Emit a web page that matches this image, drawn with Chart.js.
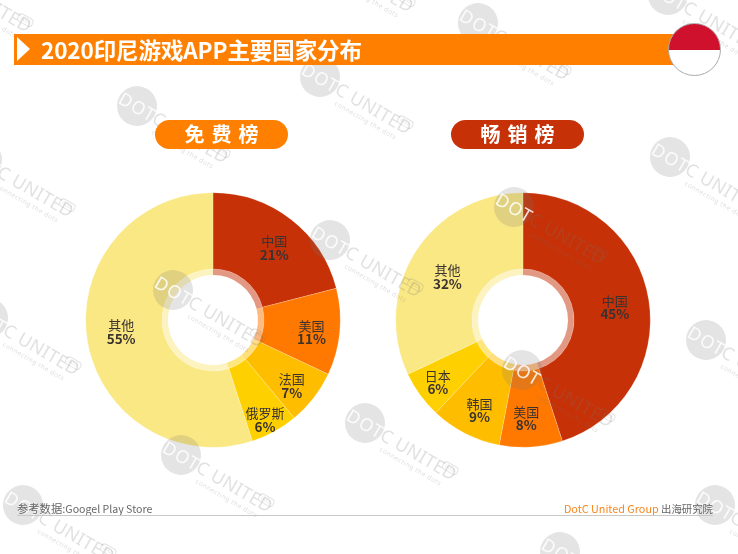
<!DOCTYPE html>
<html lang="zh"><head><meta charset="utf-8">
<script src="https://cdn.jsdelivr.net/npm/chart.js@4"></script>
<style>
html,body{margin:0;padding:0;background:#fff;}
#page{position:relative;width:738px;height:554px;overflow:hidden;font-family:"Noto Sans CJK SC","Noto Sans",sans-serif;}
canvas.pie{position:absolute;top:190px;z-index:1;}
#wmLayer{position:absolute;inset:0;z-index:2;pointer-events:none;}
.wm{position:absolute;width:0;height:0;transform:rotate(30deg);transform-origin:0 0;}
.wm i{position:absolute;left:-20px;top:-20px;width:40px;height:40px;border-radius:50%;background:rgba(120,120,120,.2);}
.wm b{position:absolute;left:-19px;top:-11px;font:400 18px/22px "Noto Sans",sans-serif;letter-spacing:1px;color:rgba(255,255,255,.85);white-space:nowrap;}
.wm u{position:absolute;left:20px;top:-12px;text-decoration:none;font:400 18px/24px "Noto Sans",sans-serif;letter-spacing:.3px;color:rgba(120,120,120,.22);white-space:nowrap;}
.wm s{position:absolute;left:26px;top:11px;text-decoration:none;font:400 6.5px/8px "Noto Sans",sans-serif;letter-spacing:.5px;color:rgba(120,120,120,.25);white-space:nowrap;}
.wm em{position:absolute;left:88px;top:-8px;width:15px;height:7px;border:1px solid rgba(120,120,120,.2);border-radius:4px;font:normal 4px/7px "Noto Sans",sans-serif;text-align:center;color:rgba(120,120,120,.25);}
#bar{position:absolute;left:14px;top:34px;width:670px;height:31px;background:#FF8000;z-index:3;}
#tri{position:absolute;left:17px;top:37px;width:0;height:0;border-left:13px solid #fff;border-top:12.5px solid transparent;border-bottom:12.5px solid transparent;z-index:4;}
#title{position:absolute;left:41px;top:34px;height:31px;line-height:31px;font-size:22.5px;font-weight:700;color:#fff;white-space:nowrap;z-index:4;letter-spacing:-.1px;}
#flag{position:absolute;left:668px;top:23px;width:51px;height:51px;border-radius:50%;box-sizing:content-box;border:.7px solid #aaa;background:linear-gradient(#CF112D 0,#CF112D 50.5%,#fff 50.5%);z-index:4;}
.pill{position:absolute;top:120px;width:133px;height:29px;border-radius:14.5px;color:#fff;font-size:20px;line-height:28px;font-weight:700;text-align:center;letter-spacing:7px;text-indent:7px;z-index:3;}
#foot{position:absolute;left:17px;top:515px;width:696px;height:1px;background:#c8c8c8;z-index:3;}
.ft{position:absolute;top:500px;font-size:10.6px;line-height:17px;color:#666;white-space:nowrap;z-index:3;}
</style></head>
<body><div id="page">
<canvas class="pie" id="freeChart" width="260" height="260" style="left:83px"></canvas>
<canvas class="pie" id="grossChart" width="260" height="260" style="left:393px"></canvas>
<div id="wmLayer"></div>
<div id="bar"></div><div id="tri"></div>
<div id="title"></div>
<div id="flag"></div>
<div class="pill" id="pillFree" style="left:155px;background:#FF8000"></div>
<div class="pill" id="pillGross" style="left:451px;background:#C63107"></div>
<div class="ft" style="left:17px"><span id="srcA" style="font-size:11.3px"></span><span id="srcB"></span></div>
<div class="ft" style="right:25px"><span id="brand" style="color:#F7871E;font-size:10.8px"></span> <span id="inst" style="font-size:10.4px"></span></div>
<div id="foot"></div>
</div>
<script>
const chartTitle = "2020印尼游戏APP主要国家分布";
const freeTitle = "免费榜";
const grossTitle = "畅销榜";
const sourceLabel = "参考数据:";
const sourceName = "Googel Play Store";
const brandText = "DotC United Group";
const instituteText = "出海研究院";

const freeCategories = ["中国","美国","法国","俄罗斯","其他"];
const freeValues = [21,11,7,6,55];
const grossCategories = ["中国","美国","韩国","日本","其他"];
const grossValues = [45,8,9,6,32];

const freeColors = ["#C63107","#FF7800","#FFBD00","#FFD000","#FAE884"];
const grossColors = ["#C63107","#FF7800","#FFBD00","#FFD000","#FAE884"];
const freeLabelRadius = [95,99,101,112,92];
const grossLabelRadius = [92,98,100,104,86];
const freeLabelNudge = [[3,2.5],[0,3],[-1,4],[-2,1.5],[-1,-3]];
const grossLabelNudge = [[1,1.5],[-3,0.5],[2,1],[-1,1],[-3,2.5]];

const watermarks = [[-60,-25],[137,106],[320,77],[478,23],[668,-5],[322,-45],[-18,160],[670,157],[514,207],[330,240],[173,290],[-12,318],[706,340],[522,370],[365,423],[181,455],[23,505],[715,505],[560,552]];

document.getElementById("title").textContent = chartTitle;
document.getElementById("pillFree").textContent = freeTitle;
document.getElementById("pillGross").textContent = grossTitle;
document.getElementById("srcA").textContent = sourceLabel;
document.getElementById("srcB").textContent = sourceName;
document.getElementById("brand").textContent = brandText;
document.getElementById("inst").textContent = instituteText;

const layer = document.getElementById("wmLayer");
watermarks.forEach(([x,y])=>{
  const d = document.createElement("div");
  d.className = "wm"; d.style.left = x+"px"; d.style.top = y+"px";
  d.innerHTML = "<i></i><b>DOT</b><u>C UNITED</u><s>connecting the dots</s><em>GOLD</em>";
  layer.appendChild(d);
});

const fade = c => c + "80";
const labelPlugin = {
  id:"sliceLabels",
  afterDatasetsDraw(chart, args, opts){
    const ctx = chart.ctx, meta = chart.getDatasetMeta(0);
    ctx.save();
    ctx.textAlign = "center"; ctx.textBaseline = "middle"; ctx.fillStyle = "#3a3330";
    meta.data.forEach((arc,i)=>{
      const a = (arc.startAngle+arc.endAngle)/2, r = opts.radius[i];
      const x = arc.x + Math.cos(a)*r + opts.nudge[i][0], y = arc.y + Math.sin(a)*r + opts.nudge[i][1];
      ctx.font = '400 13px "Noto Sans CJK SC"';
      ctx.fillText(chart.data.labels[i], x, y-6.5);
      ctx.font = '700 13.5px "Noto Sans CJK SC"';
      ctx.fillText(chart.data.datasets[0].data[i]+"%", x, y+7);
    });
    ctx.restore();
  }
};

function pie(id, labels, values, colors, radius, nudge){
  new Chart(document.getElementById(id), {
    type:"doughnut",
    plugins:[labelPlugin],
    data:{labels, datasets:[
      {data:values, backgroundColor:colors, borderColor:"rgba(255,255,255,.35)", borderWidth:.6, weight:76},
      {data:values, backgroundColor:colors.map(fade), borderWidth:0, weight:6}
    ]},
    options:{
      responsive:false, animation:false, cutout:45,
      layout:{padding:2.4},
      plugins:{legend:{display:false}, tooltip:{enabled:false}, sliceLabels:{radius, nudge}}
    }
  });
}
pie("freeChart", freeCategories, freeValues, freeColors, freeLabelRadius, freeLabelNudge);
pie("grossChart", grossCategories, grossValues, grossColors, grossLabelRadius, grossLabelNudge);
</script>
</body></html>
